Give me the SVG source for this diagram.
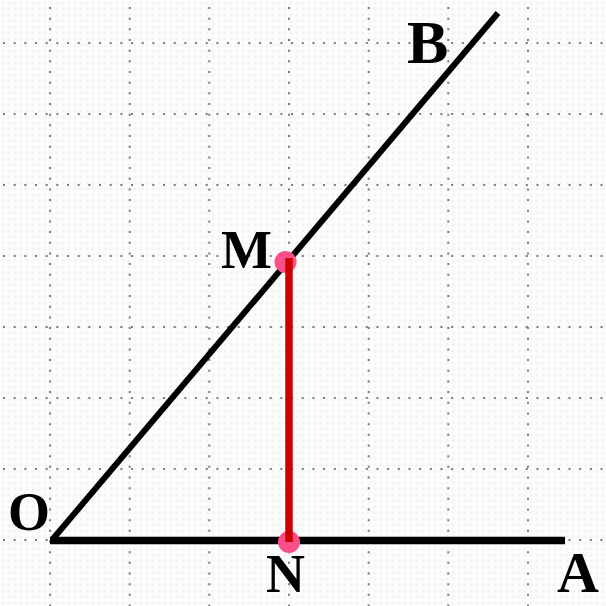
<svg xmlns="http://www.w3.org/2000/svg" width="606" height="606" viewBox="0 0 606 606">
<style>
.grid line{stroke:#7a7a7a;stroke-width:2;stroke-dasharray:2 8.67}
.lbl{font-family:"Liberation Serif","Times New Roman",serif;font-weight:bold;fill:#000}
.ray{stroke:#000;stroke-width:7;stroke-linecap:butt;fill:none}
.pt{fill:#fb4f8c}
</style>
<defs>
<pattern id="bg" width="6" height="6" patternUnits="userSpaceOnUse">
<rect width="6" height="6" fill="#fdfdfd"/>
<circle cx="3" cy="3" r="1.8" fill="#f4f4f4"/>
</pattern>
</defs>
<rect width="606" height="606" fill="url(#bg)"/>
<g class="grid">
<line x1="50" y1="7" x2="50" y2="606"/>
<line x1="129.7" y1="7" x2="129.7" y2="606"/>
<line x1="209.3" y1="7" x2="209.3" y2="606"/>
<line x1="289" y1="7" x2="289" y2="606"/>
<line x1="368.7" y1="7" x2="368.7" y2="606"/>
<line x1="448.3" y1="7" x2="448.3" y2="606"/>
<line x1="528" y1="7" x2="528" y2="606"/>
<line x1="3" y1="43" x2="606" y2="43"/>
<line x1="3" y1="114" x2="606" y2="114"/>
<line x1="3" y1="185" x2="606" y2="185"/>
<line x1="3" y1="256" x2="606" y2="256"/>
<line x1="3" y1="327" x2="606" y2="327"/>
<line x1="3" y1="398" x2="606" y2="398"/>
<line x1="3" y1="469" x2="606" y2="469"/>
<line x1="3" y1="540" x2="606" y2="540"/>
</g>
<g id="connectors">
<line class="ray" x1="50" y1="540.5" x2="565" y2="540.5" style="stroke-width:7.5"/>
<line class="ray" x1="52" y1="540" x2="498" y2="13" style="stroke-width:6"/>
</g>
<g id="M"><circle class="pt" cx="285.5" cy="262" r="11"/></g>
<g id="N"><circle class="pt" cx="289" cy="542" r="11"/></g>
<g id="MN"><line x1="289" y1="258" x2="289" y2="542" stroke="#cc0000" stroke-width="7.5"/></g>
<g id="labels">
<text class="lbl" x="407" y="63" font-size="62">B</text>
<text class="lbl" x="221" y="268" font-size="54">M</text>
<text class="lbl" x="8" y="530" font-size="54">O</text>
<text class="lbl" x="266" y="592" font-size="54">N</text>
<text class="lbl" x="557" y="592" font-size="58">A</text>
</g>
</svg>
